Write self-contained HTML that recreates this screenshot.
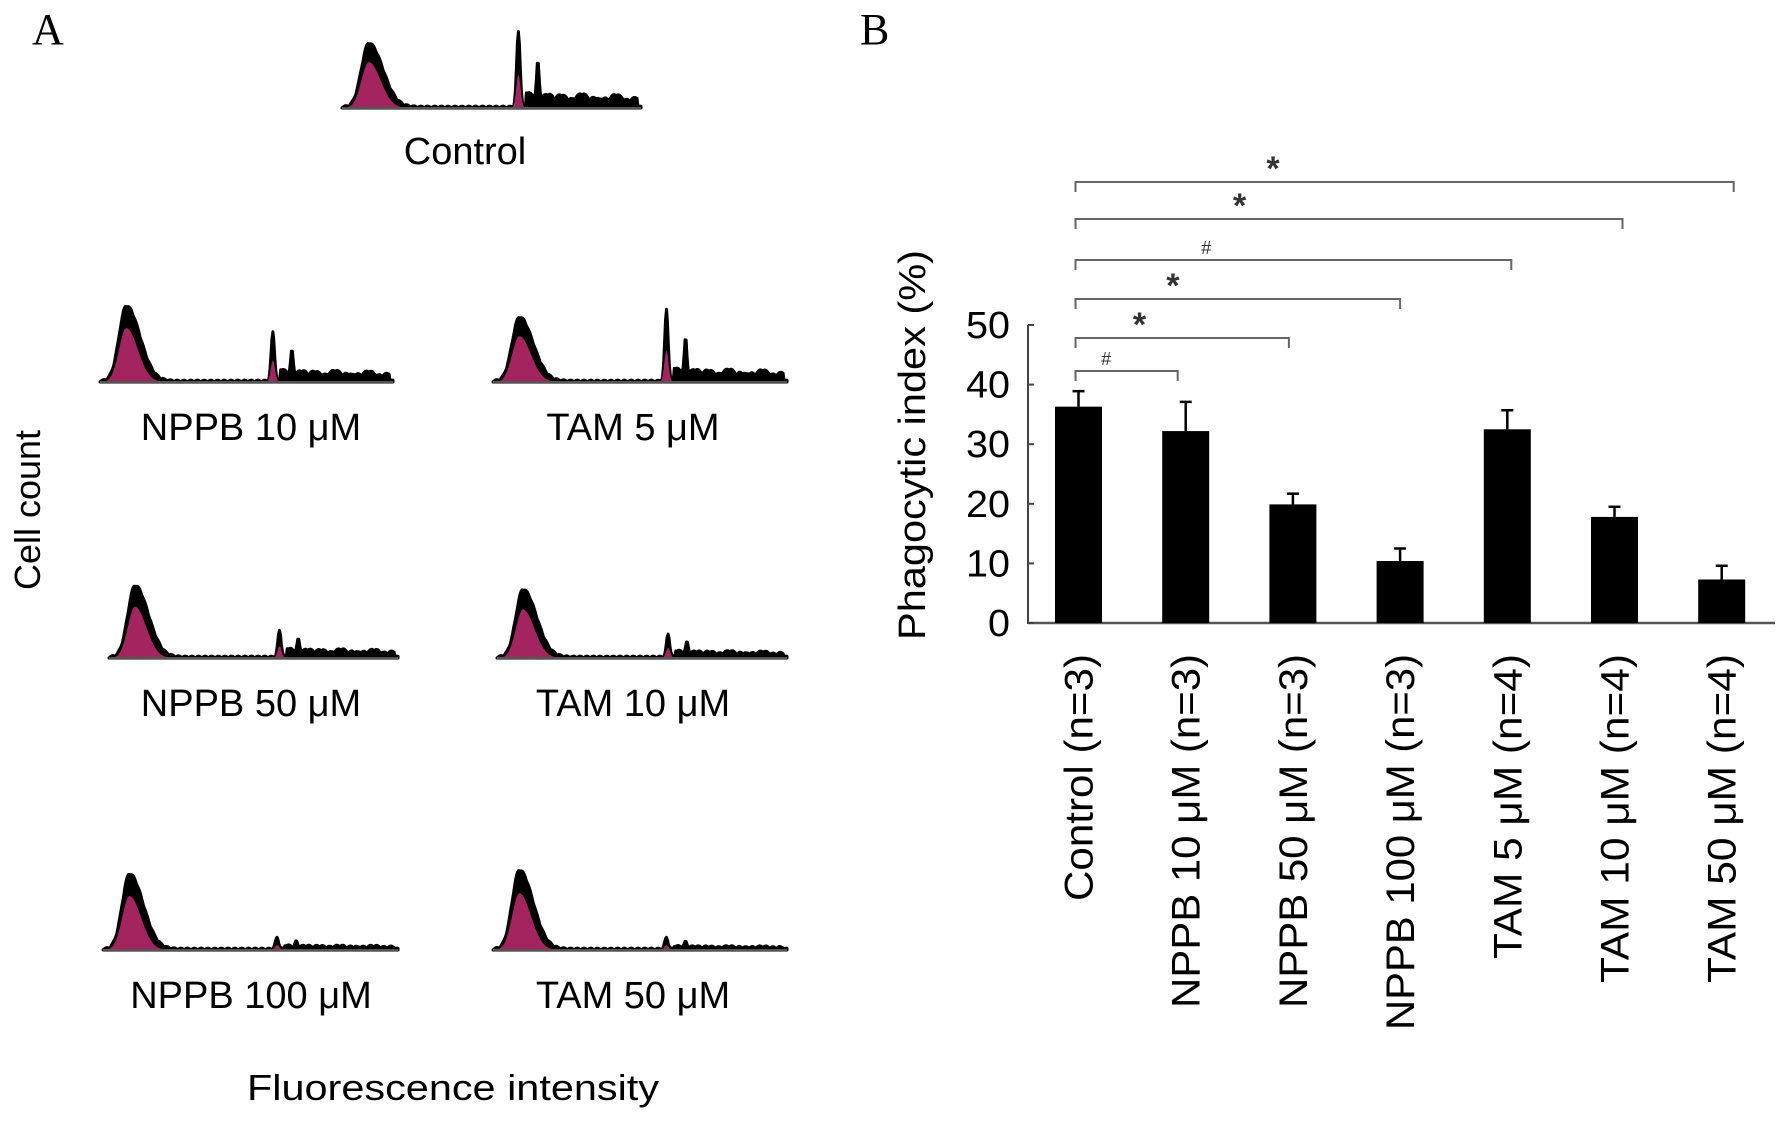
<!DOCTYPE html>
<html><head><meta charset="utf-8"><style>
html,body{margin:0;padding:0;background:#fff;}
svg{display:block;font-family:"Liberation Sans",Arial,sans-serif;}
</style></head><body>
<svg id="fig" width="1788" height="1123" viewBox="0 0 1788 1123">
<text x="32" y="44" font-family="Liberation Serif,serif" font-size="44">A</text>
<text x="860" y="44" font-family="Liberation Serif,serif" font-size="44">B</text>
<text transform="translate(40,510) rotate(-90)" text-anchor="middle" font-size="36">Cell count</text>
<text x="453" y="1100" text-anchor="middle" font-size="36" textLength="412" lengthAdjust="spacingAndGlyphs">Fluorescence intensity</text>
<g id="hists"></g>
<g id="chartB"></g>
</svg>
<script>
// ---- Panel B data ----
const categories = ["Control (n=3)","NPPB 10 \u03bcM (n=3)","NPPB 50 \u03bcM (n=3)","NPPB 100 \u03bcM (n=3)","TAM 5 \u03bcM (n=4)","TAM 10 \u03bcM (n=4)","TAM 50 \u03bcM (n=4)"];
const values = [36.3, 32.2, 19.9, 10.4, 32.5, 17.8, 7.3];
const errors = [2.6, 4.9, 1.8, 2.1, 3.2, 1.7, 2.3];
const yTicks = [0, 10, 20, 30, 40, 50];
const compareTargets = [6, 5, 4, 3, 2, 1];
const compareMarks = ["*", "*", "#", "*", "*", "#"];

const NS = "http://www.w3.org/2000/svg";
function mk(tag, attrs, parent){const e=document.createElementNS(NS,tag);for(const k in attrs)e.setAttribute(k,attrs[k]);parent.appendChild(e);return e;}

const g = document.getElementById('chartB');
const axisX = 1028, plotRight = 1775, y0 = 623, yTop = 325, yMax = 50;
const yScale = v => y0 - (v / yMax) * (y0 - yTop);
const firstCenter = 1078.5, step = 107.2;
const xScale = i => firstCenter + i * step;
const barW = 47;

const yAxis = mk('line',{x1:axisX,y1:yTop,x2:axisX,y2:y0+1,stroke:'#444','stroke-width':2},g);


const xAxis = mk('line',{x1:axisX,y1:y0,x2:plotRight,y2:y0,stroke:'#555','stroke-width':2.5},g);



yTicks.forEach(t=>{
  const y = yScale(t);
  const tk = mk('line',{x1:axisX,y1:y,x2:axisX+6,y2:y,stroke:'#444','stroke-width':2},g);
  
  
  const lb = mk('text',{x:1010,y:y+13,'text-anchor':'end','font-size':38,textLength:t===0?22:44,lengthAdjust:'spacingAndGlyphs'},g);
  lb.textContent = t;
  
  
});

const yt = mk('text',{transform:'translate(925,445) rotate(-90)','text-anchor':'middle','font-size':38,textLength:390,lengthAdjust:'spacingAndGlyphs'},g);
yt.textContent = 'Phagocytic index (%)';



const labelLens = [247,354,354,376,305,329,329];
categories.forEach((c,i)=>{
  const cx = xScale(i);
  const top = yScale(values[i]);
  const errTop = yScale(values[i]+errors[i]);
  const eb = mk('line',{x1:cx,y1:errTop,x2:cx,y2:top,stroke:'#000','stroke-width':2.5},g);
  
  
  const cap = mk('line',{x1:cx-6,y1:errTop,x2:cx+6,y2:errTop,stroke:'#000','stroke-width':2.5},g);
  
  
  const r = mk('rect',{x:cx-barW/2,y:top,width:barW,height:y0-top,fill:'#000'},g);
  
  
  const t = mk('text',{transform:`translate(${cx+14},654) rotate(-90)`,'text-anchor':'end','font-size':40,textLength:labelLens[i],lengthAdjust:'spacingAndGlyphs'},g);
  t.textContent = c;
  
  
});

const brY = [182, 219, 260, 299, 338, 371];
compareTargets.forEach((ti,k)=>{
  const x1 = xScale(0)-3, x2 = xScale(ti) - 8 + 4*(ti-1), y = brY[k];
  const p = mk('path',{d:`M${x1},${y+10} V${y} H${x2} V${y+10}`,fill:'none',stroke:'#666','stroke-width':2},g);
  
  
  const m = compareMarks[k];
  const mx = x1 + (x2-x1)*0.3;
  const s = mk('text',{x:mx,y:m==='*'?y-2:y-6,'text-anchor':'middle','font-size':m==='*'?34:18,'font-weight':m==='*'?'bold':'normal',fill:'#333'},g);
  s.textContent = m;
  
  
});

// ---- Panel A histograms ----
const histLabels = ["Control","NPPB 10 \u03bcM","TAM 5 \u03bcM","NPPB 50 \u03bcM","TAM 10 \u03bcM","NPPB 100 \u03bcM","TAM 50 \u03bcM"];
const histMain = [0.85, 1.0, 0.85, 0.95, 0.9, 1.0, 1.05];
const histSpike = [1.0, 0.65, 0.95, 0.35, 0.3, 0.15, 0.15];
const histTail = [0.2, 0.16, 0.18, 0.12, 0.09, 0.05, 0.04];
const boxes = [[342,641,108,465,152],[100,393,382,251,428],[493,787,382,633,428],[109,398,658,251,704],[497,787,658,633,704],[103,398,950,251,996],[493,787,950,633,996]];
const hg = document.getElementById('hists');
function prof(f,i,inner){
  let v = histMain[i]*Math.exp(-Math.pow((f-0.09)/(f<0.09?0.035:0.065),2));
  v += histSpike[i]*Math.exp(-Math.pow((f-0.59)/0.008,2));
  if(f>0.615 && f<0.99) v += histTail[i]*(0.55+0.45*Math.abs(Math.sin(f*53)*Math.cos(f*31)))*(1-(f-0.615)*0.6);
  v += 0.025*Math.abs(Math.sin(f*137));
  v += 0.5*histSpike[i]*Math.exp(-Math.pow((f-0.655)/0.006,2));
  return v;
}
histLabels.forEach((lab,i)=>{
  const [xa,xb,base,lx,ly] = boxes[i];
  const W = xb-xa, H = 75;
  let d = `M${xa},${base}`, dm = `M${xa},${base}`, ds = `M${xa+0.56*W},${base}`;
  for(let s=0;s<=300;s++){
    const f=s/300, x=xa+f*W;
    d += ` L${x.toFixed(1)},${(base-H*prof(f,i,false)).toFixed(1)}`;
    if(f<0.22) dm += ` L${x.toFixed(1)},${(base-H*0.72*histMain[i]*Math.exp(-Math.pow((f-0.09)/(f<0.09?0.035:0.055),2))).toFixed(1)}`;
    if(f>0.56&&f<0.62) ds += ` L${x.toFixed(1)},${(base-H*0.45*histSpike[i]*Math.exp(-Math.pow((f-0.59)/0.01,2))).toFixed(1)}`;
  }
  d += ` L${xb},${base} Z`; dm += ` L${xa+0.22*W},${base} Z`; ds += ` L${xa+0.62*W},${base} Z`;
  const p = mk('path',{d:d,fill:'#000',stroke:'#000','stroke-width':3,'stroke-linejoin':'round'},hg);
  
  
  const pm = mk('path',{d:dm,fill:'#a3245e'},hg);
  
  
  const ps = mk('path',{d:ds,fill:'#a3245e'},hg);
  
  
  const bl = mk('line',{x1:xa,y1:base,x2:xb,y2:base,stroke:'#555','stroke-width':2},hg);
  
  
  const t = mk('text',{x:lx,y:ly+12,'text-anchor':'middle','font-size':38},hg);
  t.textContent = lab;
  
  
});
</script>
</body></html>
